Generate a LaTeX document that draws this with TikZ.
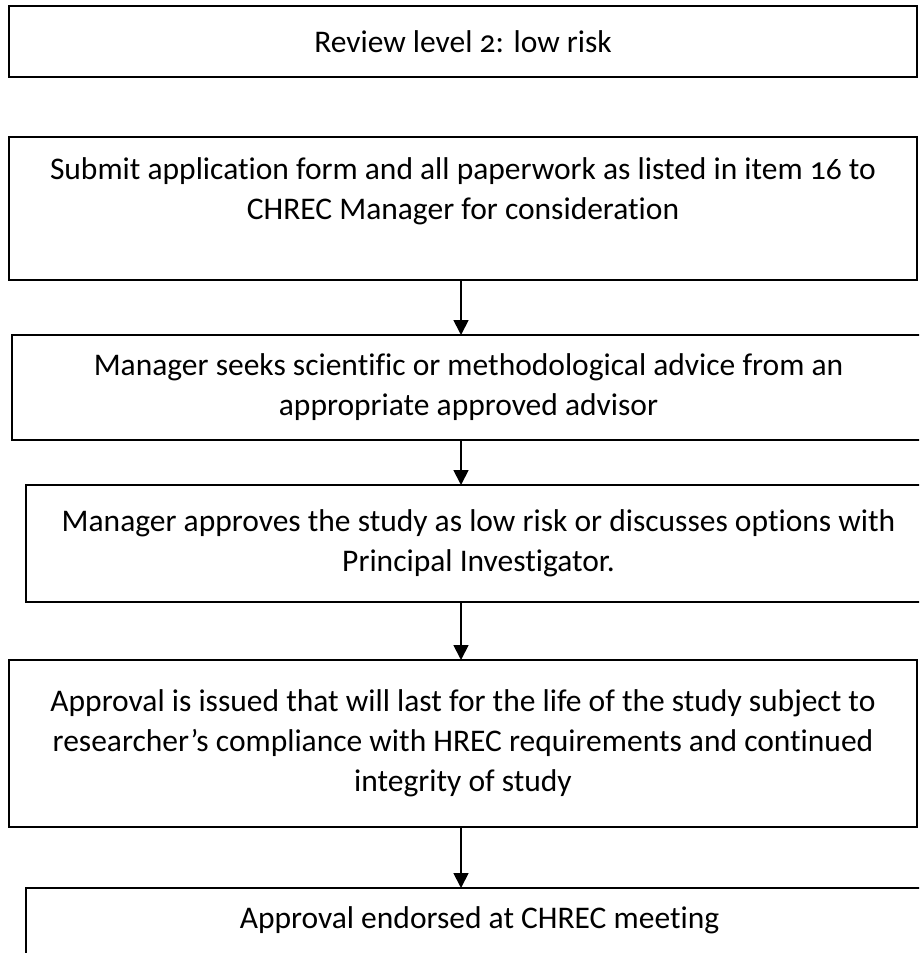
\documentclass[tikz,border=0pt]{standalone}
\usepackage{fontspec}
\setmainfont{Carlito}[Numbers=OldStyle, Ligatures=NoCommon]
\usetikzlibrary{arrows.meta,positioning}

\begin{document}
\begin{tikzpicture}[
        x=1pt, y=-1pt,
        box/.style={rectangle, draw=black, line width=1.6pt, inner sep=0pt, outer sep=0pt,
            anchor=north west, align=center, font=\fontsize{31.5}{40}\selectfont},
        arr/.style={-{Triangle[width=15pt,length=15pt]}, line width=1.8pt, draw=black}
    ]
    \useasboundingbox (0,0) rectangle (919,953);
    \clip (0,0) rectangle (919,953);

    \node[box, minimum width=908pt, minimum height=71pt] (level) at (9,6) {Review level 2: low risk};
    \node[box, minimum width=908pt, minimum height=143pt] (submit) at (9,137)
        {Submit application form and all paperwork as listed in item 16 to\\CHREC Manager for consideration\\~};
    \node[box, minimum width=913pt, minimum height=105pt] (seek) at (12,335)
        {Manager seeks scientific or methodological advice from an\\appropriate approved advisor};
    \node[box, minimum width=905pt, minimum height=117pt] (approve) at (26,485)
        {Manager approves the study as low risk or discusses options with\\Principal Investigator.};
    \node[box, minimum width=908pt, minimum height=167pt] (issued) at (9,660)
        {Approval is issued that will last for the life of the study subject to\\researcher’s compliance with HREC requirements and continued\\integrity of study};
    \node[box, minimum width=907pt, minimum height=100pt, text depth=40pt] (endorsed) at (26,888)
        {Approval endorsed at CHREC meeting};

    % arrows all run down one line
    \coordinate (ax) at (461,0);
    \draw[arr] (submit.south -| ax) -- (seek.north -| ax);
    \draw[arr] (seek.south -| ax) -- (approve.north -| ax);
    \draw[arr] (approve.south -| ax) -- (issued.north -| ax);
    \draw[arr] (issued.south -| ax) -- (endorsed.north -| ax);
\end{tikzpicture}
\end{document}
